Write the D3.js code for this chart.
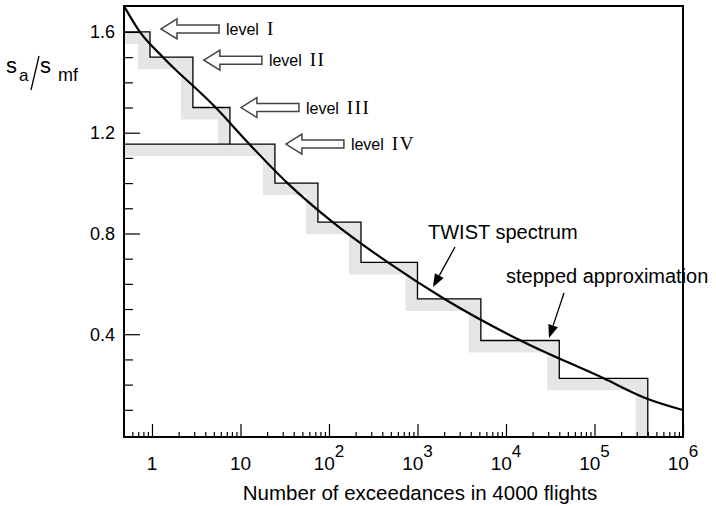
<!DOCTYPE html>
<html><head><meta charset="utf-8">
<script src="https://cdn.jsdelivr.net/npm/d3@7"></script>
<style>body{margin:0;background:#fff}svg{display:block}</style>
</head><body>
<svg id="c" width="716" height="506"></svg>
<script>
// ---- data ----
const levelS = [1.6, 1.5, 1.3, 1.155, 1.0, 0.845, 0.685, 0.54, 0.375, 0.225];
const levelN = [0.95, 2.9, 7.6, 24.5, 75, 230, 1000, 5200, 40000, 400000];
const levelNames = ["I", "II", "III", "IV"];
const twistN = [0.483, 0.73, 1.33, 5.15, 12.2, 33.5, 111, 464, 2040, 14400, 125000, 400000, 1000000];
const twistS = [1.703, 1.60, 1.50, 1.303, 1.16, 1.002, 0.844, 0.685, 0.539, 0.376, 0.226, 0.143, 0.099];
const xTickValues = [1, 10, 100, 1e3, 1e4, 1e5, 1e6];
const xTickBase = ["1", "10", "10", "10", "10", "10", "10"];
const xTickExp = ["", "", "2", "3", "4", "5", "6"];
const yTickValues = [0.4, 0.8, 1.2, 1.6];
const yTickLabels = ["0.4", "0.8", "1.2", "1.6"];
const yMinorTicks = [0.1, 0.2, 0.3, 0.5, 0.6, 0.7, 0.9, 1.0, 1.1, 1.3, 1.4, 1.5];
const xTitle = "Number of exceedances in 4000 flights";
const annTwist = "TWIST spectrum";
const annStep = "stepped approximation";

// ---- layout ----
const L = 124, R = 683, T = 6, B = 437;
const sans = "'Liberation Sans', Arial, Helvetica, sans-serif";
const serif = "'Liberation Serif', 'Times New Roman', serif";
const xDom = [0.483, 1e6], yDom = [-0.008, 1.703];
const x = d3.scaleLog().domain(xDom).range([L, R]);
const y = d3.scaleLinear().domain(yDom).range([B, T]);

const svg = d3.select("#c");
svg.append("defs").append("clipPath").attr("id", "plot")
  .append("rect").attr("x", L).attr("y", T).attr("width", R - L).attr("height", B - T);

// staircase points
const stair = [[xDom[0], levelS[0]]];
levelS.forEach((s, i) => {
  stair.push([levelN[i], s]);
  stair.push([levelN[i], i < levelS.length - 1 ? levelS[i + 1] : yDom[0]]);
});
const ext = [[xDom[0], levelS[3]], [levelN[2], levelS[3]]];
const line = d3.line().x(d => x(d[0])).y(d => y(d[1]));

const g = svg.append("g").attr("clip-path", "url(#plot)");
// grey band
[stair, ext].forEach(p => {
  g.append("path").attr("d", line(p)).attr("fill", "none")
    .attr("stroke", "#e5e5e5").attr("stroke-width", 12)
    .attr("stroke-linejoin", "miter").attr("transform", "translate(-6,6)");
});
// black stepped line
[stair, ext].forEach(p => {
  g.append("path").attr("d", line(p)).attr("fill", "none")
    .attr("stroke", "#000").attr("stroke-width", 1.3);
});
// TWIST curve
const curve = d3.line().x((d, i) => x(twistN[i])).y(d => y(d)).curve(d3.curveMonotoneX);
g.append("path").attr("d", curve(twistS)).attr("fill", "none")
  .attr("stroke", "#000").attr("stroke-width", 2.2);

// ---- axes ----
const xMinor = [];
for (let d = -1; d <= 5; d++) for (let k = 2; k <= 9; k++) {
  const v = k * Math.pow(10, d);
  if (v > 0.52 && v < 1e6) xMinor.push(v);
}
const gx = svg.append("g").attr("transform", `translate(0,${B})`);
gx.call(d3.axisBottom(x).tickValues(xMinor).tickSize(-5).tickFormat(""));
gx.call(g2 => g2.select(".domain").remove());
const gx2 = svg.append("g").attr("transform", `translate(0,${B})`);
gx2.call(d3.axisBottom(x).tickValues(xTickValues).tickSize(-13).tickFormat(""));
gx2.call(g2 => g2.select(".domain").remove());

const gy = svg.append("g").attr("transform", `translate(${L},0)`);
gy.call(d3.axisLeft(y).tickValues(yMinorTicks).tickSize(-9).tickFormat(""));
gy.call(g2 => g2.select(".domain").remove());
const gy2 = svg.append("g").attr("transform", `translate(${L},0)`);
gy2.call(d3.axisLeft(y).tickValues(yTickValues).tickSize(-16).tickFormat(""));
gy2.call(g2 => g2.select(".domain").remove());
svg.selectAll(".tick line").attr("stroke", "#000").attr("stroke-width", 1.2);

// frame
svg.append("rect").attr("x", L).attr("y", T).attr("width", R - L).attr("height", B - T)
  .attr("fill", "none").attr("stroke", "#000").attr("stroke-width", 2);

// x tick labels
xTickValues.forEach((v, i) => {
  const t = svg.append("text").attr("x", x(v)).attr("y", 470)
    .attr("text-anchor", "middle").attr("font-family", sans).attr("font-size", 19)
    .text(xTickBase[i]);
  if (xTickExp[i]) t.append("tspan").attr("dy", -13).attr("font-size", 17).text(xTickExp[i]);
});
// y tick labels
yTickValues.forEach((v, i) => {
  svg.append("text").attr("x", 115).attr("y", y(v)).attr("dy", "0.36em")
    .attr("text-anchor", "end").attr("font-family", sans).attr("font-size", 18)
    .text(yTickLabels[i]);
});
// x title
svg.append("text").attr("x", 420).attr("y", 500).attr("text-anchor", "middle")
  .attr("font-family", sans).attr("font-size", 20.5).text(xTitle);

// y title s_a / s_mf
const yt = svg.append("g").attr("font-family", sans);
yt.append("text").attr("x", 6).attr("y", 73).attr("font-size", 22).text("s");
yt.append("text").attr("x", 19).attr("y", 81).attr("font-size", 17).text("a");
yt.append("line").attr("x1", 39).attr("y1", 56).attr("x2", 31).attr("y2", 90)
  .attr("stroke", "#000").attr("stroke-width", 1.3);
yt.append("text").attr("x", 40).attr("y", 73).attr("font-size", 22).text("s");
yt.append("text").attr("x", 58).attr("y", 81).attr("font-size", 18).text("mf");

// level block arrows
levelNames.forEach((nm, i) => {
  const tip = x(levelN[i]) + 11, cy = y(levelS[i]) + (i === 0 ? -3 : i === 1 ? 3 : 0);
  const hl = 16, hh = 10, sh = 4, len = 58;
  const pts = [[tip, cy], [tip + hl, cy - hh], [tip + hl, cy - sh], [tip + len, cy - sh],
    [tip + len, cy + sh], [tip + hl, cy + sh], [tip + hl, cy + hh]];
  svg.append("polygon").attr("points", pts.map(p => p.join(",")).join(" "))
    .attr("fill", "#fff").attr("stroke", "#444").attr("stroke-width", 1.5);
  const t = svg.append("text").attr("x", tip + len + 7).attr("y", cy + 6)
    .attr("font-family", sans).attr("font-size", 16).text("level");
  t.append("tspan").attr("dx", 8).attr("font-family", serif).attr("font-size", 19)
    .attr("letter-spacing", 1.5).text(nm);
});

// annotations with arrows
function annArrow(x1, y1, x2, y2) {
  const a = Math.atan2(y2 - y1, x2 - x1), hl = 13, hw = 5;
  const bx = x2 - hl * Math.cos(a), by = y2 - hl * Math.sin(a);
  svg.append("line").attr("x1", x1).attr("y1", y1).attr("x2", bx).attr("y2", by)
    .attr("stroke", "#000").attr("stroke-width", 1.3);
  const px = -Math.sin(a) * hw, py = Math.cos(a) * hw;
  svg.append("polygon").attr("points",
    `${x2},${y2} ${bx + px},${by + py} ${bx - px},${by - py}`).attr("fill", "#000");
}
svg.append("text").attr("x", 428).attr("y", 239).attr("font-family", sans)
  .attr("font-size", 20).text(annTwist);
annArrow(455, 247, 433, 287);
svg.append("text").attr("x", 506).attr("y", 283).attr("font-family", sans)
  .attr("font-size", 20).text(annStep);
annArrow(564, 293, 549, 338);
</script>
</body></html>
